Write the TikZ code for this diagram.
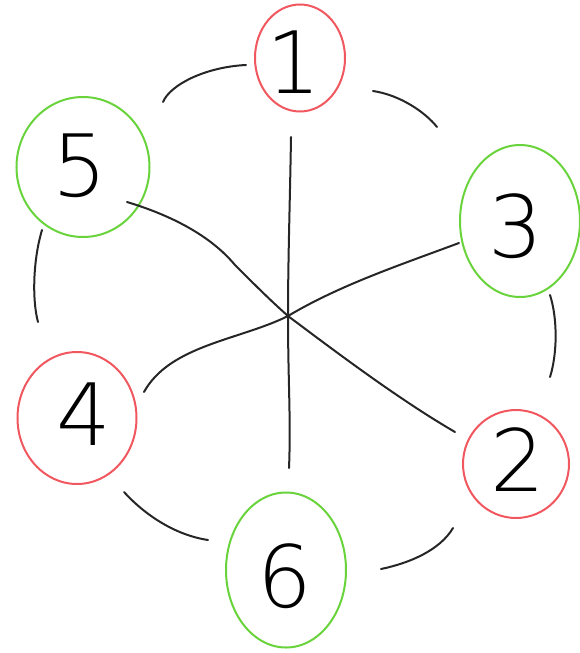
\documentclass[tikz,border=0pt]{standalone}
\usepackage{fontspec}
\newfontfamily\thinfont{DejaVu Sans ExtraLight}
\usetikzlibrary{shapes.geometric}
\definecolor{hred}{HTML}{F0575E}
\definecolor{hgreen}{HTML}{69D33C}
\tikzset{
  vnode/.style={ellipse, draw, line width=2pt, inner sep=0pt},
  rnode/.style={vnode, draw=hred},
  gnode/.style={vnode, draw=hgreen},
  digit/.style={font=\thinfont\fontsize{86}{86}\selectfont, text=black},
  edge/.style={line width=2pt, black!85, line cap=round}
}
\begin{document}
\begin{tikzpicture}[x=1pt,y=-1pt]
\useasboundingbox (0,0) rectangle (580,653);
\node[rnode, minimum width=90pt, minimum height=107pt] (n1) at (300,58) {};
\node[digit] (t1) at (294,62) {1};
\node[gnode, minimum width=133pt, minimum height=140pt] (n5) at (83,167) {};
\node[digit] (t5) at (80,166) {5};
\node[gnode, minimum width=120pt, minimum height=152pt] (n3) at (520,221) {};
\node[digit] (t3) at (516,226) {3};
\node[rnode, minimum width=119pt, minimum height=132pt] (n4) at (77,418) {};
\node[digit] (t4) at (84,414) {4};
\node[rnode, minimum width=106pt, minimum height=108pt] (n2) at (516,464) {};
\node[digit] (t2) at (518,460) {2};
\node[gnode, minimum width=120pt, minimum height=155pt] (n6) at (286,570) {};
\node[digit] (t6) at (285,576) {6};
% endpoints
\coordinate (a15) at (246,65); \coordinate (b15) at (163,102);
\coordinate (a13) at (373,91); \coordinate (b13) at (437,127);
\coordinate (a54) at (42,230); \coordinate (b54) at (38,322);
\coordinate (a32) at (550,295); \coordinate (b32) at (550,377);
\coordinate (a46) at (124,492); \coordinate (b46) at (208,540);
\coordinate (a26) at (453,528); \coordinate (b26) at (381,569);
\coordinate (c) at (288,316);
\coordinate (a16) at (291,137); \coordinate (b16) at (289,468);
\coordinate (a52) at (127,202); \coordinate (b52) at (455,432);
\coordinate (a34) at (459,243); \coordinate (b34) at (144,392);
\draw[edge] (a15) .. controls (205,67) and (170,85) .. (b15);
\draw[edge] (a13) .. controls (400,95) and (425,112) .. (b13);
\draw[edge] (a54) .. controls (33,260) and (32,300) .. (b54);
\draw[edge] (a32) .. controls (558,320) and (557,355) .. (b32);
\draw[edge] (a46) .. controls (145,515) and (175,535) .. (b46);
\draw[edge] (a26) .. controls (440,550) and (410,563) .. (b26);
\draw[edge] (a16) .. controls (290,200) and (288,260) .. (c) .. controls (288,380) and (291,420) .. (b16);
\draw[edge] (a52) .. controls (170,215) and (210,235) .. (235,265) .. controls (255,285) and (270,300) .. (c) .. controls (340,355) and (400,400) .. (b52);
\draw[edge] (a34) .. controls (400,265) and (340,285) .. (c) .. controls (240,340) and (170,345) .. (b34);
\end{tikzpicture}
\end{document}
